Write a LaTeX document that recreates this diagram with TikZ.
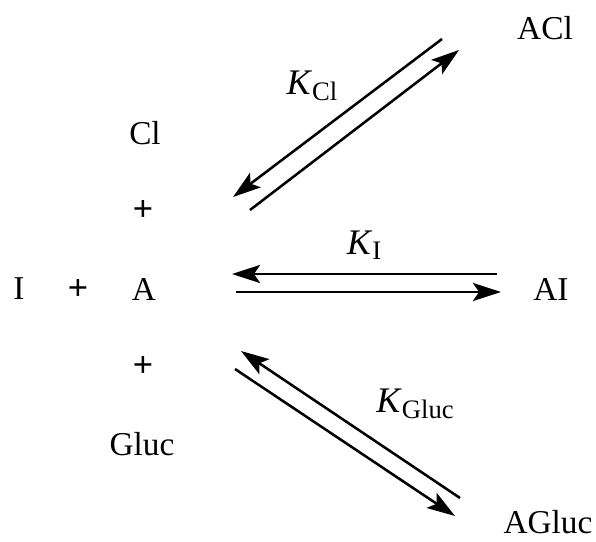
\documentclass[tikz,border=0pt]{standalone}
\usepackage{fontspec}
\setmainfont{Liberation Serif}
\newfontfamily\plusfont{Liberation Sans}
\usetikzlibrary{arrows.meta}

\newcommand{\konst}[1]{{\fontsize{27}{30}\selectfont\textit{K}}\raisebox{-0.35ex}{\fontsize{20}{20}\selectfont #1}}

\begin{document}
\begin{tikzpicture} [x=0.75pt, y=-0.75pt, every node/.style={inner sep=0pt, font=\fontsize{25}{29}\selectfont},
    rxn/.style={line width=1.9pt, -{Stealth[length=21pt, width=13.5pt, inset=4.5pt]}},
    plus/.style={font=\plusfont\fontsize{26}{29}\selectfont}]
    \useasboundingbox (0, 0) rectangle (596, 542);

    % species on the left
    \node (cl) at (145, 133) {Cl};
    \node[plus] (plusTop) at (143, 210) {+};
    \node (i) at (19, 289) {I};
    \node[plus] (plusI) at (78, 289) {+};
    \node (a) at (144, 289) {A};
    \node[plus] (plusBot) at (143, 366) {+};
    \node (gluc) at (142, 444) {Gluc};

    % complexes on the right
    \node (aCl) at (545, 28) {ACl};
    \node (ai) at (551, 289) {AI};
    \node (aGluc) at (548, 522) {AGluc};

    % constants
    \node (kCl) at (312, 86) {\konst{Cl}};
    \node (kI) at (364, 245) {\konst{I}};
    \node (kGluc) at (415, 404) {\konst{Gluc}};

    % arrow ends
    \coordinate (clOut) at (442, 39);
    \coordinate (clTip) at (233, 197);
    \coordinate (clIn) at (250, 210);
    \coordinate (clBack) at (459, 50);

    \coordinate (iOut) at (497, 274);
    \coordinate (iTip) at (232, 274);
    \coordinate (iIn) at (236, 292);
    \coordinate (iBack) at (501, 292);

    \coordinate (glOut) at (460, 498);
    \coordinate (glTip) at (241, 351);
    \coordinate (glIn) at (235, 369);
    \coordinate (glBack) at (455, 516);

    % draw equilibria
    \draw[rxn] (clOut) -- (clTip);
    \draw[rxn] (clIn) -- (clBack);

    \draw[rxn, line width=2.2pt] (iOut) -- (iTip);
    \draw[rxn, line width=2.2pt] (iIn) -- (iBack);

    \draw[rxn] (glOut) -- (glTip);
    \draw[rxn] (glIn) -- (glBack);
\end{tikzpicture}
\end{document}
